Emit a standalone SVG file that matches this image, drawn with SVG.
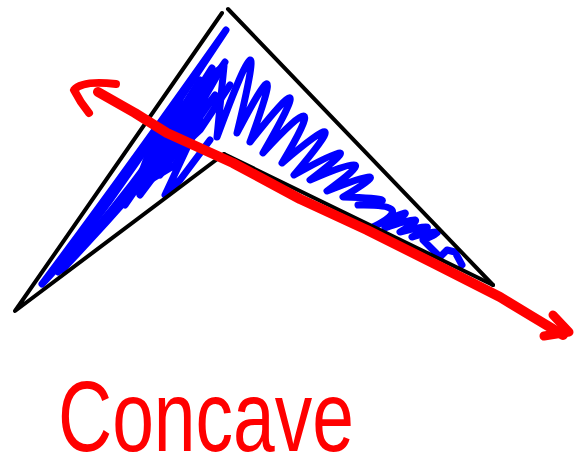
<svg xmlns="http://www.w3.org/2000/svg" width="580" height="473" viewBox="0 0 580 473">
<style>
.blk{fill:none;stroke:#000;stroke-width:4;stroke-linecap:round;stroke-linejoin:round}
.blu{fill:none;stroke:#0000ff;stroke-width:7;stroke-linecap:round;stroke-linejoin:round}
.red{fill:none;stroke:#ff0000;stroke-width:10;stroke-linecap:round;stroke-linejoin:round}
.lbl{font-family:"Liberation Sans",Arial,sans-serif;font-size:100px;fill:#ff0000}
</style>
<rect width="580" height="473" fill="#fff"/>
<g id="scribble-left">
<path class="blu" d="M42,284 Q120,180 226,30 Q170,115 110,200 Q70,255 42,284"/>
<path class="blu" d="M58,272 Q110,215 150,160 L200,80 L140,190 L212,68 L125,205 L185,118 L150,170 L225,62 L160,175 L215,95 L140,195 L195,115 L168,160 L200,130 L230,85"/>
<path class="blu" d="M62,270 Q100,230 135,190 L150,150 L180,100 L150,180 L175,165 L200,120 L165,195 L180,180 L210,140"/>
</g>
<g id="scribble-right">
<path class="blu" d="M210,76 L224,66 L217,137 Q273,-15 237,133 Q290.5,30.5 250,142 Q323.5,48.5 263,153 Q335.5,74 282,163 Q362,95 294,175 Q378,128.5 310,180 Q391.5,144.5 327,191 Q405,160 343,197 Q413.5,199 358,205 Q418.5,204 373,227 Q431,198.5 385,228 Q437.5,210 400,232 Q448,219.5 412,237 Q456.5,225.5 423,240 L440,257 L447,250 L455,252 L462,265"/>
</g>
<g id="shape">
<path class="blk" d="M222,13 L15,311 L224,154"/>
<path class="blk" d="M228,9 L493,285"/>
<path class="blk" d="M224,154 L493,285"/>
</g>
<g id="arrow">
<path class="red" d="M98,92 L135,113 L167,133 L233,163 L300,199 L367,230 L433,263 L500,297 L533,317 L563,335"/>
<path class="red" style="stroke-width:8" d="M116,84 Q82,80 74,90 Q80,102 89,113"/>
<path class="red" style="stroke-width:9" d="M553,315 L569,332 L544,336"/>
</g>
<text class="lbl" x="58" y="451" textLength="296" lengthAdjust="spacingAndGlyphs">Concave</text>
</svg>
